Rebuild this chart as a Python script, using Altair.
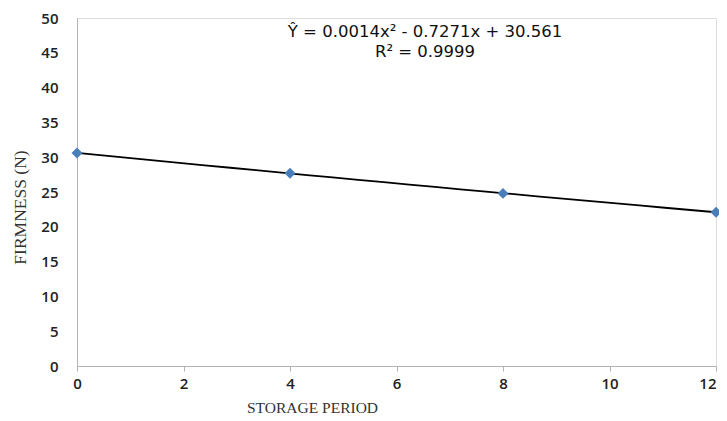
import altair as alt
import pandas as pd

storage_period = [0, 4, 8, 12]
firmness = [30.6, 27.7, 24.8, 22.1]
x_ticks = [0, 2, 4, 6, 8, 10, 12]
y_ticks = [0, 5, 10, 15, 20, 25, 30, 35, 40, 45, 50]
equation_lines = ["Ŷ = 0.0014x² - 0.7271x + 30.561", "R² = 0.9999"]

df = pd.DataFrame({"x": storage_period, "y": firmness})

x_enc = alt.X("x:Q", scale=alt.Scale(domain=[0, 12], nice=False, zero=False),
              axis=alt.Axis(values=x_ticks, title="STORAGE PERIOD", grid=False,
                            domainColor="#b3b3b3", tickColor="#b3b3b3", tickSize=5,
                            labelFont="Open Sans", labelFontSize=15, labelColor="#222",
                            labelFontWeight=600, labelPadding=5, labelOverlap=False, labelFlush=False,
                            labelAlign=alt.ExprRef("datum.value == 12 ? 'right' : 'center'"),
                            titleFont="Liberation Serif", titleFontSize=15.5, titleFontWeight="normal",
                            titleColor="#333", titleX=235, titleY=41, titleBaseline="middle"))
y_enc = alt.Y("y:Q", scale=alt.Scale(domain=[0, 50], nice=False),
              axis=alt.Axis(values=y_ticks, title="FIRMNESS (N)", grid=False, ticks=False,
                            domainColor="#b3b3b3",
                            labelFont="Open Sans", labelFontSize=15, labelColor="#222",
                            labelFontWeight=600, labelPadding=19, labelOverlap=False, labelFlush=False,
                            titleFont="Liberation Serif", titleFontSize=17.5, titleFontWeight="normal",
                            titleColor="#333", titleX=-57, titleY=189, titleBaseline="middle",
                            titleAngle=-90))

base = alt.Chart(df)

trend = base.transform_regression("x", "y", method="poly", order=2, extent=[0, 12]).mark_line(
    color="#000000", strokeWidth=1.8).encode(x=x_enc, y=y_enc)

points = base.mark_point(shape="diamond", filled=True, color="#4a7ebb", size=120, opacity=1).encode(
    x=x_enc, y=y_enc)

eq_df = pd.DataFrame({"t": [equation_lines[0]], "t2": [equation_lines[1]]})
eq1 = alt.Chart(eq_df).mark_text(font="DejaVu Sans", fontSize=16.5, color="#111", align="center",
                                  baseline="middle").encode(
    text="t:N", x=alt.value(348), y=alt.value(14))
eq2 = alt.Chart(eq_df).mark_text(font="DejaVu Sans", fontSize=16.5, color="#111", align="center",
                                  baseline="middle").encode(
    text="t2:N", x=alt.value(348), y=alt.value(34))

chart = alt.layer(trend, points, eq1, eq2).properties(
    width=639, height=348,
    autosize=alt.AutoSizeParams(type="none"),
    padding={"left": 69, "top": 10, "right": 3, "bottom": 50},
).configure_view(stroke=None).configure(background="white")

chart.save("out.html", embed_options={"renderer": "svg", "actions": False})
